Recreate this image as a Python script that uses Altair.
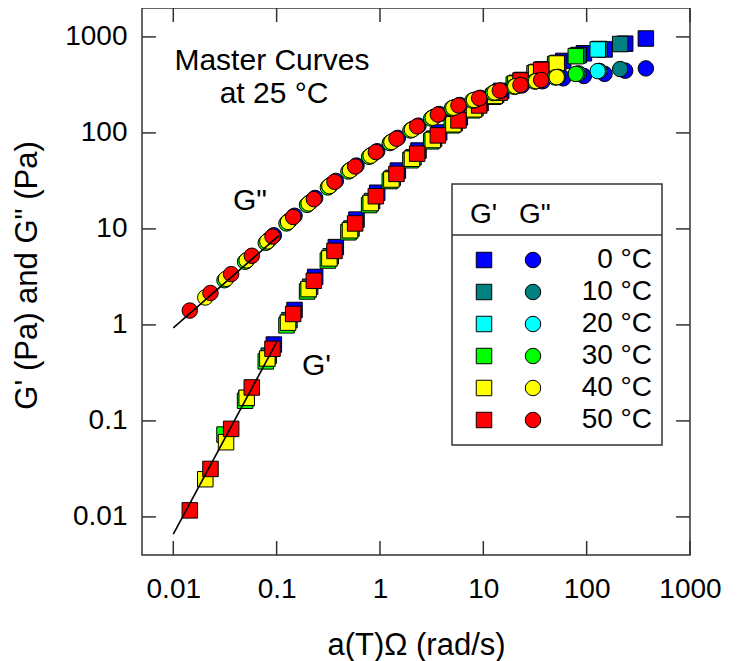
import altair as alt
import pandas as pd

FONT = "Liberation Sans"

TEMPS = ["0 °C", "10 °C", "20 °C", "30 °C", "40 °C", "50 °C"]
COLORS = ["#0000FF", "#008080", "#00FFFF", "#00FF00", "#FFFF00", "#FF0000"]

# a(T)*omega (rad/s), G' (Pa), G'' (Pa) for each temperature
X_0 = [0.094, 0.149, 0.236, 0.374, 0.593, 0.940, 1.49, 2.36, 3.74, 5.93, 9.40, 14.9, 23.6, 37.4, 59.3, 94.0, 149, 236, 374]
GP_0 = [0.624, 1.43, 3.16, 6.46, 12.5, 23.8, 40.5, 65.5, 101, 145, 204, 274, 356, 459, 562, 675, 740, 850, 962]
GPP_0 = [8.57, 13.7, 21.0, 31.6, 45.7, 64.4, 88.7, 119, 157, 195, 232, 275, 312, 345, 370, 392, 412, 445, 470]

X_10 = [0.0839, 0.133, 0.211, 0.334, 0.530, 0.839, 1.33, 2.11, 3.34, 5.30, 8.39, 13.3, 21.1, 33.4, 53.0, 83.9, 133, 211]
GP_10 = [0.478, 1.12, 2.50, 5.19, 10.1, 19.5, 34.0, 55.7, 87.1, 127, 181, 249, 333, 432, 536, 647, 748, 843]
GPP_10 = [7.66, 12.2, 18.9, 28.7, 41.8, 59.3, 82.2, 111, 147, 185, 222, 267, 308, 349, 383, 416, 442, 462]

X_20 = [0.0511, 0.0809, 0.128, 0.203, 0.322, 0.511, 0.809, 1.28, 2.03, 3.22, 5.11, 8.09, 12.8, 20.3, 32.2, 51.1, 80.9, 128]
GP_20 = [0.173, 0.443, 1.05, 2.34, 4.90, 9.62, 18.5, 32.6, 53.6, 84.1, 123, 176, 243, 325, 424, 527, 637, 740]
GPP_20 = [4.68, 7.38, 11.8, 18.3, 27.7, 40.6, 57.7, 80.1, 108, 144, 182, 219, 263, 305, 345, 380, 413, 440]

X_30 = [0.0313, 0.0495, 0.0785, 0.1245, 0.197, 0.313, 0.495, 0.785, 1.245, 1.97, 3.13, 4.95, 7.85, 12.45, 19.7, 31.3, 49.5, 78.5]
GP_30 = [0.072, 0.162, 0.417, 0.99, 2.23, 4.68, 9.22, 17.7, 31.5, 51.9, 81.7, 120, 172, 238, 319, 417, 520, 630]
GPP_30 = [2.92, 4.55, 7.16, 11.4, 17.8, 27.0, 39.6, 56.4, 78.4, 106, 141, 180, 217, 260, 303, 343, 378, 411]

X_40 = [0.0204, 0.0324, 0.0513, 0.0813, 0.129, 0.204, 0.324, 0.513, 0.813, 1.29, 2.04, 3.24, 5.13, 8.13, 12.9, 20.4, 32.4, 51.3]
GP_40 = [0.0247, 0.060, 0.174, 0.447, 1.055, 2.36, 4.93, 9.68, 18.6, 32.7, 53.8, 84.4, 123, 176, 243, 326, 425, 528]
GPP_40 = [1.93, 3.02, 4.70, 7.41, 11.8, 18.4, 27.9, 40.7, 57.9, 80.4, 108, 144, 183, 220, 264, 306, 346, 381]

X_50 = [0.01445, 0.0229, 0.0363, 0.0575, 0.0912, 0.1445, 0.229, 0.363, 0.575, 0.912, 1.445, 2.29, 3.63, 5.75, 9.12, 14.45, 22.9, 36.3]
GP_50 = [0.0117, 0.0316, 0.0826, 0.223, 0.564, 1.30, 2.88, 5.90, 11.4, 21.9, 37.4, 60.8, 94.2, 135, 193, 263, 351, 453]
GPP_50 = [1.41, 2.15, 3.38, 5.25, 8.32, 13.3, 20.4, 30.9, 44.7, 63.1, 87.1, 117, 155, 193, 230, 276, 316, 356]

SERIES = [(X_0, GP_0, GPP_0), (X_10, GP_10, GPP_10), (X_20, GP_20, GPP_20),
          (X_30, GP_30, GPP_30), (X_40, GP_40, GPP_40), (X_50, GP_50, GPP_50)]

# straight guide lines at low frequency
LINE_GP_X = [0.01, 0.1]
LINE_GP_Y = [0.0066, 0.66]
LINE_GPP_X = [0.01, 0.105]
LINE_GPP_Y = [0.93, 8.5]

X_TICKS = [0.01, 0.1, 1, 10, 100, 1000]
Y_TICKS = [0.01, 0.1, 1, 10, 100, 1000]
X_DOMAIN = [0.00498, 1000]
Y_DOMAIN = [0.00401, 2000]

NOTES_TEXT = ["Master Curves", "at 25 °C", "G\"", "G'"]
NOTES_X = [0.0901, 0.0944, 0.0552, 0.176]
NOTES_Y = [453, 204, 15.7, 0.298]
NOTES_ALIGN = ["center", "center", "center", "left"]

W, H = 548, 547

rows = []
for t, (xs, gp, gpp) in zip(TEMPS, SERIES):
    for i, x in enumerate(xs):
        rows.append({"temp": t, "x": x, "gp": gp[i], "gpp": gpp[i]})
df = pd.DataFrame(rows)

xs = alt.Scale(type="log", domain=X_DOMAIN, nice=False)
ys = alt.Scale(type="log", domain=Y_DOMAIN, nice=False)

x_axis = alt.Axis(values=X_TICKS, format="~g", ticks=False, domain=False, grid=False,
                  labelFont=FONT, labelFontSize=28, labelColor="black", labelPadding=20,
                  labelBaseline="top", labelFlush=False, labelOverlap=False,
                  title="a(T)Ω (rad/s)", titleFont=FONT, titleFontSize=31,
                  titleFontWeight="normal", titleColor="black",
                  titleX=274, titleY=99, titleBaseline="alphabetic", titleAlign="center")
y_axis = alt.Axis(values=Y_TICKS, format="~g", ticks=False, domain=False, grid=False,
                  labelFont=FONT, labelFontSize=28, labelColor="black", labelPadding=15,
                  labelFlush=False, labelOverlap=False,
                  title="G' (Pa) and G\" (Pa)", titleFont=FONT, titleFontSize=31,
                  titleFontWeight="normal", titleColor="black",
                  titleX=-106, titleY=267, titleAngle=270, titleBaseline="alphabetic",
                  titleAlign="center")

sq_legend = alt.Legend(title="G'", orient="none", legendX=328, legendY=193,
                       symbolType="square", symbolSize=240, symbolStrokeColor="black",
                       symbolStrokeWidth=1, symbolOpacity=1, labelOpacity=0,
                       labelFont=FONT, labelFontSize=28, titleFont=FONT, titleFontSize=28,
                       titleFontWeight="normal", titleColor="black", rowPadding=4,
                       titlePadding=17, padding=0)
ci_legend = alt.Legend(title="G\"", orient="none", legendX=377, legendY=193,
                       symbolType="circle", symbolSize=240, symbolStrokeColor="black",
                       symbolStrokeWidth=1, symbolOpacity=1, labelAlign="right",
                       labelOffset=105, labelBaseline="middle", labelColor="black",
                       labelFont=FONT, labelFontSize=28, titleFont=FONT, titleFontSize=28,
                       titleFontWeight="normal", titleColor="black", rowPadding=4,
                       titlePadding=17, padding=0)

base = alt.Chart(df)
squares = base.mark_square(size=240, stroke="black", strokeWidth=1, opacity=1).encode(
    x=alt.X("x:Q", scale=xs, axis=x_axis),
    y=alt.Y("gp:Q", scale=ys, axis=y_axis),
    fill=alt.Fill("temp:N", scale=alt.Scale(domain=TEMPS, range=COLORS), legend=sq_legend),
)
circles = base.mark_circle(size=240, stroke="black", strokeWidth=1, opacity=1).encode(
    x=alt.X("x:Q", scale=xs),
    y=alt.Y("gpp:Q", scale=ys),
    color=alt.Color("temp:N", scale=alt.Scale(domain=TEMPS, range=COLORS), legend=ci_legend),
)

line_gp = alt.Chart(pd.DataFrame({"x": LINE_GP_X, "y": LINE_GP_Y})).mark_line(
    color="black", strokeWidth=1.6).encode(x=alt.X("x:Q", scale=xs), y=alt.Y("y:Q", scale=ys))
line_gpp = alt.Chart(pd.DataFrame({"x": LINE_GPP_X, "y": LINE_GPP_Y})).mark_line(
    color="black", strokeWidth=1.6).encode(x=alt.X("x:Q", scale=xs), y=alt.Y("y:Q", scale=ys))

notes_df = pd.DataFrame({"t": NOTES_TEXT, "x": NOTES_X, "y": NOTES_Y, "a": NOTES_ALIGN})
notes_c = alt.Chart(notes_df[notes_df.a == "center"]).mark_text(
    font=FONT, fontSize=30, color="black", align="center", baseline="alphabetic").encode(
    x=alt.X("x:Q", scale=xs), y=alt.Y("y:Q", scale=ys), text="t:N")
notes_l = alt.Chart(notes_df[notes_df.a == "left"]).mark_text(
    font=FONT, fontSize=30, color="black", align="left", baseline="alphabetic").encode(
    x=alt.X("x:Q", scale=xs), y=alt.Y("y:Q", scale=ys), text="t:N")

xt = pd.DataFrame({"v": X_TICKS})
yt = pd.DataFrame({"v": Y_TICKS})
TICK = 14
tick_style = dict(color="#333333", strokeWidth=1.5)
ticks_bottom = alt.Chart(xt).mark_rule(**tick_style).encode(
    x=alt.X("v:Q", scale=xs), y=alt.value(H), y2=alt.value(H - TICK))
ticks_top = alt.Chart(xt).mark_rule(**tick_style).encode(
    x=alt.X("v:Q", scale=xs), y=alt.value(0), y2=alt.value(TICK))
ticks_left = alt.Chart(yt).mark_rule(**tick_style).encode(
    y=alt.Y("v:Q", scale=ys), x=alt.value(0), x2=alt.value(TICK))
ticks_right = alt.Chart(yt).mark_rule(**tick_style).encode(
    y=alt.Y("v:Q", scale=ys), x=alt.value(W), x2=alt.value(W - TICK))

one = pd.DataFrame({"k": [0]})
box = alt.Chart(one).mark_rect(fill="white", stroke="#333333", strokeWidth=1.5).encode(
    x=alt.value(310), x2=alt.value(520), y=alt.value(176), y2=alt.value(437))
sep = alt.Chart(one).mark_rule(color="#333333", strokeWidth=1.5).encode(
    x=alt.value(310), x2=alt.value(520), y=alt.value(227))

chart = alt.layer(
    squares, circles, line_gp, line_gpp, notes_c, notes_l,
    ticks_bottom, ticks_top, ticks_left, ticks_right, box, sep
).resolve_scale(fill="independent", color="independent").properties(
    width=W, height=H,
    autosize=alt.AutoSizeParams(type="none"),
    padding={"left": 134, "top": 0, "right": 40, "bottom": 106},
    background="white",
).configure_view(stroke="#333333", strokeWidth=1.5)

chart.save("out.html", embed_options={"renderer": "svg", "actions": False})
